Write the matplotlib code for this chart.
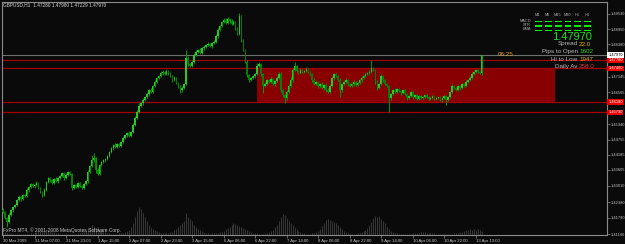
import matplotlib
matplotlib.use('Agg')
import matplotlib.pyplot as plt
from matplotlib.patches import Rectangle
from matplotlib.colors import ListedColormap
import numpy as np

plt.rcParams['font.family'] = ['Liberation Sans', 'DejaVu Sans']

# MT4 GBPUSD H1 chart, 30 Mar - 13 Apr 2009
symbol = 'GBPUSD,H1'
last_ohlc = [1.47280, 1.47980, 1.47229, 1.47970]
first_open = 1.4210

# hourly closes
closes = [
    1.4201, 1.4178, 1.4163, 1.4189, 1.4208, 1.4220, 1.4227, 1.4246, 1.4258, 1.4250,
    1.4265, 1.4261, 1.4284, 1.4296, 1.4307, 1.4299, 1.4303, 1.4311, 1.4292, 1.4277,
    1.4265, 1.4284, 1.4315, 1.4330, 1.4322, 1.4311, 1.4326, 1.4318, 1.4330, 1.4337,
    1.4349, 1.4330, 1.4341, 1.4353, 1.4345, 1.4292, 1.4303, 1.4296, 1.4311, 1.4299,
    1.4292, 1.4307, 1.4318, 1.4353, 1.4375, 1.4398, 1.4406, 1.4360, 1.4345, 1.4379,
    1.4391, 1.4398, 1.4402, 1.4413, 1.4429, 1.4444, 1.4455, 1.4448, 1.4459, 1.4451,
    1.4467, 1.4482, 1.4493, 1.4501, 1.4489, 1.4505, 1.4531, 1.4558, 1.4581, 1.4603,
    1.4615, 1.4626, 1.4637, 1.4649, 1.4664, 1.4657, 1.4679, 1.4695, 1.4710, 1.4717,
    1.4729, 1.4733, 1.4725, 1.4736, 1.4729, 1.4717, 1.4702, 1.4710, 1.4691, 1.4679,
    1.4664, 1.4672, 1.4687, 1.4786, 1.4763, 1.4755, 1.4771, 1.4797, 1.4809, 1.4816,
    1.4805, 1.4824, 1.4828, 1.4835, 1.4839, 1.4831, 1.4843, 1.4847, 1.4869, 1.4892,
    1.4907, 1.4923, 1.4930, 1.4919, 1.4934, 1.4926, 1.4915, 1.4923, 1.4900, 1.4877,
    1.4945, 1.4854, 1.4816, 1.4771, 1.4721, 1.4702, 1.4710, 1.4717, 1.4725, 1.4755,
    1.4763, 1.4725, 1.4679, 1.4687, 1.4702, 1.4695, 1.4706, 1.4687, 1.4698, 1.4710,
    1.4725, 1.4664, 1.4645, 1.4634, 1.4657, 1.4679, 1.4702, 1.4740, 1.4755, 1.4736,
    1.4729, 1.4740, 1.4733, 1.4736, 1.4744, 1.4733, 1.4725, 1.4702, 1.4687, 1.4695,
    1.4679, 1.4687, 1.4672, 1.4683, 1.4664, 1.4657, 1.4679, 1.4710, 1.4725, 1.4717,
    1.4702, 1.4664, 1.4687, 1.4695, 1.4702, 1.4687, 1.4679, 1.4687, 1.4695, 1.4683,
    1.4691, 1.4702, 1.4710, 1.4717, 1.4725, 1.4729, 1.4733, 1.4748, 1.4740, 1.4695,
    1.4672, 1.4687, 1.4717, 1.4702, 1.4687, 1.4679, 1.4634, 1.4649, 1.4664, 1.4657,
    1.4668, 1.4660, 1.4653, 1.4664, 1.4649, 1.4634, 1.4641, 1.4657, 1.4637, 1.4645,
    1.4630, 1.4641, 1.4634, 1.4637, 1.4645, 1.4637, 1.4630, 1.4634, 1.4641, 1.4630,
    1.4634, 1.4637, 1.4626, 1.4634, 1.4641, 1.4626, 1.4637, 1.4657, 1.4679, 1.4672,
    1.4664, 1.4679, 1.4672, 1.4687, 1.4679, 1.4695, 1.4702, 1.4710, 1.4725, 1.4733,
    1.4740, 1.4733, 1.4728, 1.4797,
]

# wick lengths in pips above the body / below the body
upper_wick = [
    4, 3, 5, 6, 4, 3, 5, 4, 6, 3,   5, 4, 6, 3, 5, 4, 3, 6, 4, 5,
    3, 6, 5, 4, 3, 5, 4, 6, 3, 5,   4, 3, 6, 5, 4, 3, 5, 4, 3, 4,
    5, 3, 4, 8, 6, 20, 19, 4, 6, 5, 3, 5, 4, 6, 3, 5, 4, 6, 3, 5,
    4, 6, 5, 3, 6, 5, 8, 6, 7, 10,  5, 6, 4, 8, 5, 7, 4, 6, 5, 4,
    6, 8, 5, 7, 6, 4, 5, 6, 4, 5,   4, 6, 5, 30, 6, 5, 7, 6, 8, 5,
    6, 5, 7, 4, 6, 5, 4, 6, 8, 7,   6, 5, 8, 6, 9, 5, 7, 6, 5, 4,
    12, 6, 5, 4, 6, 4, 5, 6, 4, 10, 8, 5, 4, 6, 5, 4, 6, 5, 4, 6,
    8, 6, 5, 4, 6, 8, 10, 6, 16, 5, 4, 6, 5, 4, 6, 5, 4, 5, 6, 4,
    5, 4, 6, 5, 4, 6, 8, 6, 5, 4,   5, 6, 4, 5, 6, 4, 5, 4, 6, 5,
    4, 5, 6, 4, 5, 4, 6, 30, 5, 4,  6, 5, 8, 6, 5, 4, 6, 5, 4, 6,
    4, 5, 3, 4, 5, 4, 3, 5, 4, 3,   4, 3, 5, 4, 3, 4, 5, 3, 4, 3,
    4, 3, 5, 4, 3, 4, 6, 5, 8, 4,   5, 4, 6, 5, 4, 6, 5, 6, 8, 5,
    4, 5, 3, 1,
]
lower_wick = [
    5, 4, 19, 5, 4, 6, 3, 5, 4, 6,  4, 5, 3, 6, 4, 5, 6, 3, 5, 4,
    6, 4, 3, 5, 6, 4, 5, 3, 6, 4,   5, 6, 4, 3, 5, 6, 4, 5, 6, 4,
    3, 5, 4, 6, 5, 4, 6, 10, 5, 4,  5, 4, 6, 3, 5, 4, 6, 4, 5, 3,
    5, 4, 3, 6, 4, 5, 6, 4, 5, 6,   4, 6, 5, 3, 6, 4, 5, 4, 6, 5,
    4, 6, 5, 4, 6, 5, 6, 4, 5, 8,   10, 6, 5, 4, 6, 5, 4, 6, 5, 4,
    5, 4, 6, 3, 5, 4, 6, 5, 4, 6,   5, 4, 6, 5, 4, 6, 5, 4, 6, 4,
    4, 6, 5, 6, 8, 8, 5, 4, 6, 5,   4, 6, 26, 5, 4, 6, 5, 4, 6, 5,
    4, 6, 8, 19, 6, 5, 4, 6, 5, 4,  5, 4, 6, 5, 4, 6, 5, 6, 4, 5,
    6, 5, 4, 6, 8, 6, 5, 4, 6, 5,   4, 27, 6, 5, 4, 6, 5, 4, 6, 5,
    4, 5, 6, 4, 5, 4, 6, 5, 4, 8,   6, 5, 4, 6, 5, 4, 53, 6, 5, 4,
    5, 4, 6, 5, 4, 6, 5, 4, 6, 5,   4, 5, 3, 4, 5, 4, 3, 5, 4, 3,
    4, 5, 3, 6, 4, 19, 5, 4, 6, 5,  4, 5, 6, 4, 5, 4, 6, 5, 4, 5,
    4, 5, 4, 5,
]

# tick volume per hour
volumes = [
    300, 300, 200, 200, 200, 100, 100, 100, 100,
    100, 100, 100, 100, 100, 200, 200, 300,
    300, 400, 400, 300, 400, 500, 400, 400, 300, 300, 200,
    200, 100, 100, 100, 100,
    100, 100, 100, 100, 100, 200, 200, 300,
    400, 500, 600, 800, 1000, 900, 700, 800, 600, 500, 400,
    300, 200, 200, 100, 100,
    100, 100, 200, 200, 200, 300, 400, 500,
    800, 1200, 1800, 2400, 2800, 2600, 2200, 1800, 1400, 1000, 800,
    600, 500, 400, 300, 200,
    200, 200, 200, 200, 300, 300, 500, 600,
    800, 1000, 1200, 1400, 2200, 1800, 1600, 1400, 1000, 800, 600,
    500, 400, 300, 200, 200,
    100, 200, 200, 200, 200, 300, 300, 400,
    600, 700, 800, 1000, 1200, 1100, 1000, 900, 800, 700, 600,
    500, 400, 300, 200, 200,
    200, 100, 100, 100, 200, 200, 300, 400, 500,
    800, 1000, 1400, 1800, 2100, 2000, 1700, 1400, 1200, 1000, 800,
    600, 400, 300, 200, 200,
    100, 100, 100, 200, 200, 300, 400, 600,
    900, 1200, 1500, 1600, 1500, 1400, 1300, 1200, 1000, 800, 600,
    400, 300, 200, 200, 100,
    100, 100, 200, 200, 300, 400, 500, 700,
    1000, 1300, 1700, 1900, 1800, 1900, 1600, 1400, 1200, 800, 600,
    400, 300, 200, 200, 100,
    100, 100, 100, 100, 100, 100, 200, 200,
    200, 200, 300, 300, 300, 200, 200, 200, 200, 200, 100,
    100, 100, 100, 100,
    100, 100, 100, 100, 200, 200, 200, 300,
    300, 400, 500, 500, 600, 500, 600, 500, 600, 500, 400,
]

time_labels = ['30 Mar 2009', '31 Mar 07:00', '31 Mar 23:00', '1 Apr 15:00',
               '2 Apr 07:00', '2 Apr 23:00', '3 Apr 15:00', '6 Apr 06:00',
               '6 Apr 22:00', '7 Apr 14:00', '8 Apr 06:00', '8 Apr 22:00',
               '9 Apr 14:00', '10 Apr 06:00', '10 Apr 22:00', '13 Apr 13:00']
label_every = 16

price_labels = ['1.49530', '1.48950', '1.48380', '1.47145', '1.46565', '1.45340',
                '1.44755', '1.44185', '1.43605', '1.43010', '1.42380', '1.41790', '1.41160']

# drawn levels and the range box
levels = [1.4778, 1.4746, 1.4618, 1.4579]
zone_start, zone_end = 129, 280
zone_low, zone_high = 1.4618, 1.4746

# info panel
timeframes = ['M1', 'M5', 'M15', 'M30', 'H1', 'H4']
indicators = ['MACD', 'STR', 'EMA']
signals = [[1, 1, 1, 1, 1, 1],
           [1, 1, 1, 1, 1, 1],
           [1, 1, 1, 1, 1, 1]]
spread = '22.0'
pips_to_open = '1602'
hi_to_low = '1947'
daily_av = '258.0'
bar_timer = '06:25'

# ---------------------------------------------------------------
closes = np.array(closes)
opens = np.concatenate([[first_open], closes[:-1]])
highs = np.maximum(opens, closes) + np.array(upper_wick) * 0.0001
lows = np.minimum(opens, closes) - np.array(lower_wick) * 0.0001
idx = np.arange(len(closes))
bull = closes >= opens

W, H = 625, 244
def fx(px):
    return px / W
def fy(py):
    return 1 - py / H

bg = '#0a0a0a'
txt = '#c4c4c4'
fig = plt.figure(figsize=(6.25, 2.44), dpi=100, facecolor=bg)
rect = [fx(2), fy(235), fx(607) - fx(2), fy(2) - fy(235)]
xlim = (-0.5, 306.6)

# volume histogram underneath
ax_vol = fig.add_axes(rect, zorder=0)
ax_vol.set_facecolor(bg)
ax_vol.vlines(idx, 0, volumes, color='#383838', lw=0.7)
ax_vol.set_xlim(xlim)
ax_vol.set_ylim(0, 23300)
ax_vol.axis('off')

ax = fig.add_axes(rect, zorder=1)
ax.patch.set_alpha(0)
ax.set_xlim(xlim)
ax.set_ylim(1.41132, 1.49986)

ax.add_patch(Rectangle((zone_start, zone_low), zone_end - zone_start, zone_high - zone_low,
                       facecolor='#880000', edgecolor='none', zorder=1))
for p in levels:
    ax.axhline(p, color='#a00000', lw=0.9, zorder=2)
ax.axhline(last_ohlc[3], color='#6e6e6e', lw=0.8, zorder=2)

# candles
ax.vlines(idx, lows, highs, color='#009a00', lw=0.75, zorder=3)
body_lo = np.minimum(opens, closes)
body_h = np.maximum(np.abs(closes - opens), 0.00008)
ax.bar(idx[bull], body_h[bull], bottom=body_lo[bull], width=0.8, color='#28c828', zorder=4)
ax.bar(idx[~bull], body_h[~bull], bottom=body_lo[~bull], width=0.8, color='#077a07', zorder=4)

for s in ax.spines.values():
    s.set_color('#8a8a8a')
    s.set_linewidth(0.8)

ax.yaxis.tick_right()
ax.set_yticks([float(s) for s in price_labels])
ax.set_yticklabels(price_labels)
ax.tick_params(axis='y', colors='#8a8a8a', labelcolor=txt, labelsize=2.9,
               length=2, width=0.5, pad=0.6)
ax.set_xticks(idx[::label_every])
ax.set_xticklabels(time_labels, ha='left')
ax.tick_params(axis='x', colors='#8a8a8a', labelcolor=txt, labelsize=3.1,
               length=2, width=0.5, pad=1.2)

# price boxes on the right scale
for p in levels:
    ax.annotate(f'{p:.5f}', xy=(1, p), xycoords=('axes fraction', 'data'),
                xytext=(0.9, 0), textcoords='offset points', ha='left', va='center',
                fontsize=2.9, color='white', annotation_clip=False,
                bbox=dict(boxstyle='square,pad=0.2', fc='#ee0000', ec='none'))
ax.annotate(f'{last_ohlc[3]:.5f}', xy=(1, last_ohlc[3]), xycoords=('axes fraction', 'data'),
            xytext=(0.9, 0), textcoords='offset points', ha='left', va='center',
            fontsize=2.9, color='black', annotation_clip=False,
            bbox=dict(boxstyle='square,pad=0.2', fc='white', ec='none'))

# header and footer
fig.text(fx(3), fy(5), symbol + '  ' + ' '.join(f'{v:.5f}' for v in last_ohlc),
         fontsize=3.4, color='#d8d8d8', va='center')
fig.text(fx(3), fy(230.5), 'FxPro MT4, © 2001-2008 MetaQuotes Software Corp.',
         fontsize=3.5, color=txt, va='center')

# signal panel
for k, tf in enumerate(timeframes):
    fig.text(fx(537.5 + 10 * k), fy(15.5), tf, fontsize=2.8, color='#b0b0b0',
             ha='center', va='center')
for r, name in enumerate(indicators):
    fig.text(fx(531), fy(20.5 + 4.5 * r), name, fontsize=2.8, color='#b0b0b0',
             ha='right', va='center')
ax_sig = fig.add_axes([fx(533), fy(32), fx(592) - fx(533), fy(18.5) - fy(32)], zorder=3)
ax_sig.pcolormesh(np.array(signals), cmap=ListedColormap(['#006600', '#00f000']),
                  vmin=0, vmax=1, edgecolors=bg, linewidth=0.9)
ax_sig.invert_yaxis()
ax_sig.axis('off')

fig.text(fx(592), fy(36.5), f'{last_ohlc[3]:.5f}', fontsize=8, color='#22dd22',
         ha='right', va='center')
rows = [('Spread', spread, '#e0b000', 44),
        ('Pips to Open', pips_to_open, '#30d030', 51.7),
        ('Hi to Low', hi_to_low, '#e8b020', 59.3),
        ('Daily Av', daily_av, '#e03030', 66.7)]
for label, value, col, yy in rows:
    fig.text(fx(577.5), fy(yy), label, fontsize=4.5, color='#b8b8b8', ha='right', va='center')
    fig.text(fx(579), fy(yy), value, fontsize=4.5, color=col, ha='left', va='center')
fig.text(fx(498), fy(55), bar_timer, fontsize=4.5, color='#e0a030', ha='left', va='center')

fig.savefig('out.png', dpi=100, facecolor=bg)
